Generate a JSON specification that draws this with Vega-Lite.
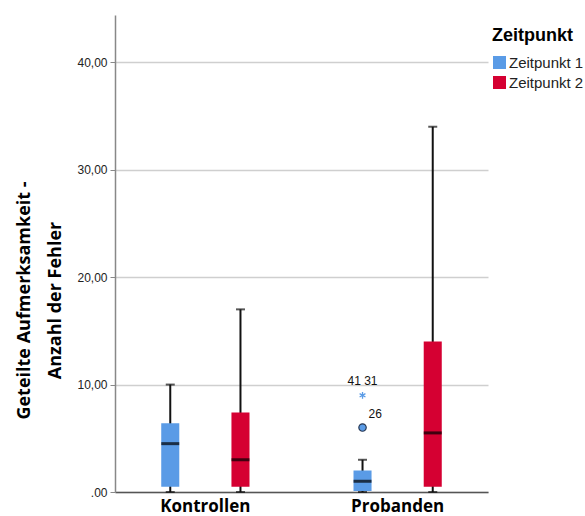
{
  "$schema": "https://vega.github.io/schema/vega-lite/v6.json",
  "autosize": {"type": "none"},
  "padding": {"left": 115, "top": 15, "right": 97, "bottom": 24},
  "width": 373,
  "height": 477,
  "background": "white",
  "config": {
    "view": {"stroke": null},
    "font": "Liberation Sans"
  },
  "datasets": {
    "boxes": [
      {"Gruppe": "Kontrollen", "Zeitpunkt": "Zeitpunkt 1", "min": 0, "q1": 0.5, "median": 4.5, "q3": 6.4, "max": 10.0},
      {"Gruppe": "Kontrollen", "Zeitpunkt": "Zeitpunkt 2", "min": 0, "q1": 0.5, "median": 3.0, "q3": 7.4, "max": 17.0},
      {"Gruppe": "Probanden", "Zeitpunkt": "Zeitpunkt 1", "min": 0, "q1": 0.1, "median": 1.0, "q3": 2.0, "max": 3.0},
      {"Gruppe": "Probanden", "Zeitpunkt": "Zeitpunkt 2", "min": 0, "q1": 0.5, "median": 5.5, "q3": 14.0, "max": 34.0}
    ],
    "ausreisser": [
      {"Gruppe": "Probanden", "Zeitpunkt": "Zeitpunkt 1", "wert": 6.0, "art": "mild", "fall": "26"},
      {"Gruppe": "Probanden", "Zeitpunkt": "Zeitpunkt 1", "wert": 9.0, "art": "extrem", "fall": "41  31"}
    ]
  },
  "encoding": {
    "x": {
      "field": "Gruppe", "type": "nominal",
      "scale": {"domain": ["Kontrollen", "Probanden"], "paddingInner": 0.4, "paddingOuter": 0.17},
      "axis": {
        "title": null, "labelAngle": 0, "ticks": false, "labelPadding": 6,
        "labelFont": "Open Sans", "labelFontWeight": "bold", "labelFontSize": 17, "labelColor": "#000",
        "domainColor": "#555", "domainWidth": 1.5
      }
    },
    "xOffset": {
      "field": "Zeitpunkt", "type": "nominal",
      "scale": {"domain": ["Zeitpunkt 1", "Zeitpunkt 2"], "paddingInner": 0.743, "paddingOuter": 0.193}
    }
  },
  "layer": [
    {
      "data": {"name": "boxes"},
      "mark": {"type": "rule", "color": "#111", "strokeWidth": 2},
      "encoding": {
        "y": {
          "field": "min", "type": "quantitative",
          "scale": {"domain": [0, 44.4], "nice": false, "zero": true},
          "axis": {
            "values": [0, 10, 20, 30, 40],
            "labelExpr": "datum.value == 0 ? '.00' : replace(format(datum.value, '.2f'), '.', ',')",
            "labelFontSize": 12, "labelColor": "#222", "labelPadding": 3,
            "tickColor": "#888", "tickSize": 5,
            "domainColor": "#888", "domainWidth": 1.5,
            "grid": true, "gridColor": "#cfcfcf", "gridWidth": 1.5,
            "title": ["Geteilte Aufmerksamkeit -", "Anzahl der Fehler"],
            "titleFont": "Open Sans", "titleFontWeight": "bold", "titleFontSize": 18,
            "titleColor": "#000", "titleLineHeight": 31, "titlePadding": 12, "titleY": 285
          }
        },
        "y2": {"field": "max"}
      }
    },
    {
      "data": {"name": "boxes"},
      "mark": {"type": "tick", "color": "#111", "thickness": 2, "size": 9},
      "encoding": {"y": {"field": "max", "type": "quantitative"}}
    },
    {
      "data": {"name": "boxes"},
      "mark": {"type": "tick", "color": "#111", "thickness": 2, "size": 9},
      "encoding": {"y": {"field": "min", "type": "quantitative"}}
    },
    {
      "data": {"name": "boxes"},
      "mark": {"type": "bar"},
      "encoding": {
        "y": {"field": "q1", "type": "quantitative"},
        "y2": {"field": "q3"},
        "color": {
          "field": "Zeitpunkt", "type": "nominal",
          "scale": {"domain": ["Zeitpunkt 1", "Zeitpunkt 2"], "range": ["#5a9be6", "#d50032"]},
          "legend": {
            "title": "Zeitpunkt", "orient": "none", "legendX": 377, "legendY": 12,
            "titleFontSize": 18, "titleFontWeight": "bold", "titleColor": "#000", "titlePadding": 10,
            "labelFontSize": 15, "labelColor": "#222", "labelOffset": 2,
            "symbolType": "square", "symbolSize": 170, "symbolStrokeWidth": 0, "rowPadding": 4
          }
        }
      }
    },
    {
      "data": {"name": "boxes"},
      "mark": {"type": "tick", "color": "#000", "thickness": 3, "size": 18},
      "encoding": {"y": {"field": "median", "type": "quantitative"}}
    },
    {
      "data": {"name": "ausreisser"},
      "transform": [{"filter": "datum.art == 'mild'"}],
      "mark": {"type": "point", "shape": "circle", "filled": true, "size": 55, "color": "#5a9be6", "stroke": "#2a3a55", "strokeWidth": 1.2, "opacity": 1},
      "encoding": {"y": {"field": "wert", "type": "quantitative"}}
    },
    {
      "data": {"name": "ausreisser"},
      "transform": [{"filter": "datum.art == 'extrem'"}],
      "mark": {"type": "point", "shape": "M0,-1L0,1M-0.87,-0.5L0.87,0.5M-0.87,0.5L0.87,-0.5", "filled": false, "size": 45, "stroke": "#5a9be6", "strokeWidth": 1.3, "opacity": 1},
      "encoding": {"y": {"field": "wert", "type": "quantitative"}}
    },
    {
      "data": {"name": "ausreisser"},
      "transform": [{"filter": "datum.art == 'extrem'"}],
      "mark": {"type": "text", "fontSize": 12, "color": "#111", "dy": -14, "align": "center"},
      "encoding": {
        "y": {"field": "wert", "type": "quantitative"},
        "text": {"field": "fall"}
      }
    },
    {
      "data": {"name": "ausreisser"},
      "transform": [{"filter": "datum.art == 'mild'"}],
      "mark": {"type": "text", "fontSize": 12, "color": "#111", "dx": 6, "dy": -14, "align": "left"},
      "encoding": {
        "y": {"field": "wert", "type": "quantitative"},
        "text": {"field": "fall"}
      }
    }
  ]
}
